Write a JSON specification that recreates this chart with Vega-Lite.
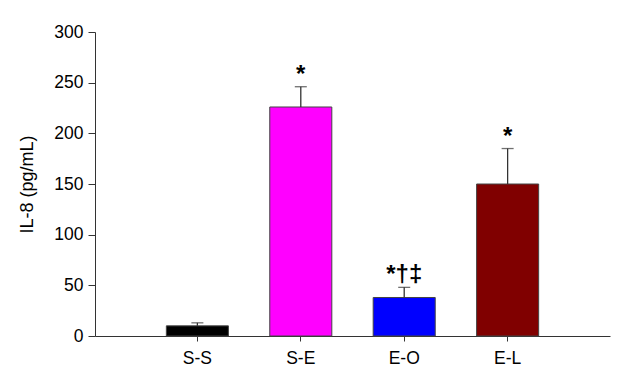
{
  "$schema": "https://vega.github.io/schema/vega-lite/v6.json",
  "width": 515,
  "height": 304,
  "autosize": {"type": "none"},
  "padding": {"left": 95, "top": 32, "right": 12, "bottom": 38},
  "background": "white",
  "config": {
    "view": {"stroke": null},
    "font": "Liberation Sans",
    "axis": {
      "domainColor": "#333333",
      "tickColor": "#333333",
      "labelColor": "#000000",
      "titleColor": "#000000",
      "labelFont": "Liberation Sans",
      "titleFont": "Liberation Sans",
      "labelFontSize": 17.5,
      "titleFontSize": 18,
      "titleFontWeight": "normal",
      "grid": false
    }
  },
  "data": {
    "values": [
      {"group": "S-S", "mean": 10, "sem": 3, "sig": ""},
      {"group": "S-E", "mean": 226, "sem": 20, "sig": "*"},
      {"group": "E-O", "mean": 38, "sem": 10, "sig": "*†‡"},
      {"group": "E-L", "mean": 150, "sem": 35, "sig": "*"}
    ]
  },
  "transform": [{"calculate": "datum.mean + datum.sem", "as": "upper"}],
  "encoding": {
    "x": {
      "field": "group",
      "type": "nominal",
      "sort": null,
      "scale": {"paddingInner": 0.4, "paddingOuter": 0.69},
      "axis": {
        "title": null,
        "labelAngle": 0,
        "tickSize": 5,
        "labelPadding": 8
      }
    }
  },
  "layer": [
    {
      "mark": {"type": "bar", "stroke": "#444444", "strokeWidth": 1},
      "encoding": {
        "y": {
          "field": "mean",
          "type": "quantitative",
          "scale": {"domain": [0, 300], "nice": false},
          "axis": {
            "title": "IL-8 (pg/mL)",
            "values": [0, 50, 100, 150, 200, 250, 300],
            "tickSize": 7,
            "labelPadding": 5,
            "titleAngle": -90,
            "titleX": -63,
            "titleY": 152,
            "titleAlign": "center",
            "titleBaseline": "alphabetic"
          }
        },
        "color": {
          "field": "group",
          "type": "nominal",
          "sort": null,
          "scale": {
            "domain": ["S-S", "S-E", "E-O", "E-L"],
            "range": ["#000000", "#FF00FF", "#0000FF", "#800000"]
          },
          "legend": null
        }
      }
    },
    {
      "mark": {"type": "rule", "color": "#333333", "strokeWidth": 1.3},
      "encoding": {
        "y": {"field": "mean", "type": "quantitative"},
        "y2": {"field": "upper"}
      }
    },
    {
      "mark": {"type": "tick", "color": "#333333", "thickness": 1.3, "size": 12, "orient": "horizontal"},
      "encoding": {
        "y": {"field": "upper", "type": "quantitative"}
      }
    },
    {
      "mark": {"type": "text", "fontSize": 24, "fontWeight": "bold", "color": "#000000", "baseline": "middle", "dy": -12},
      "encoding": {
        "y": {"field": "upper", "type": "quantitative"},
        "text": {"field": "sig"}
      }
    }
  ]
}
